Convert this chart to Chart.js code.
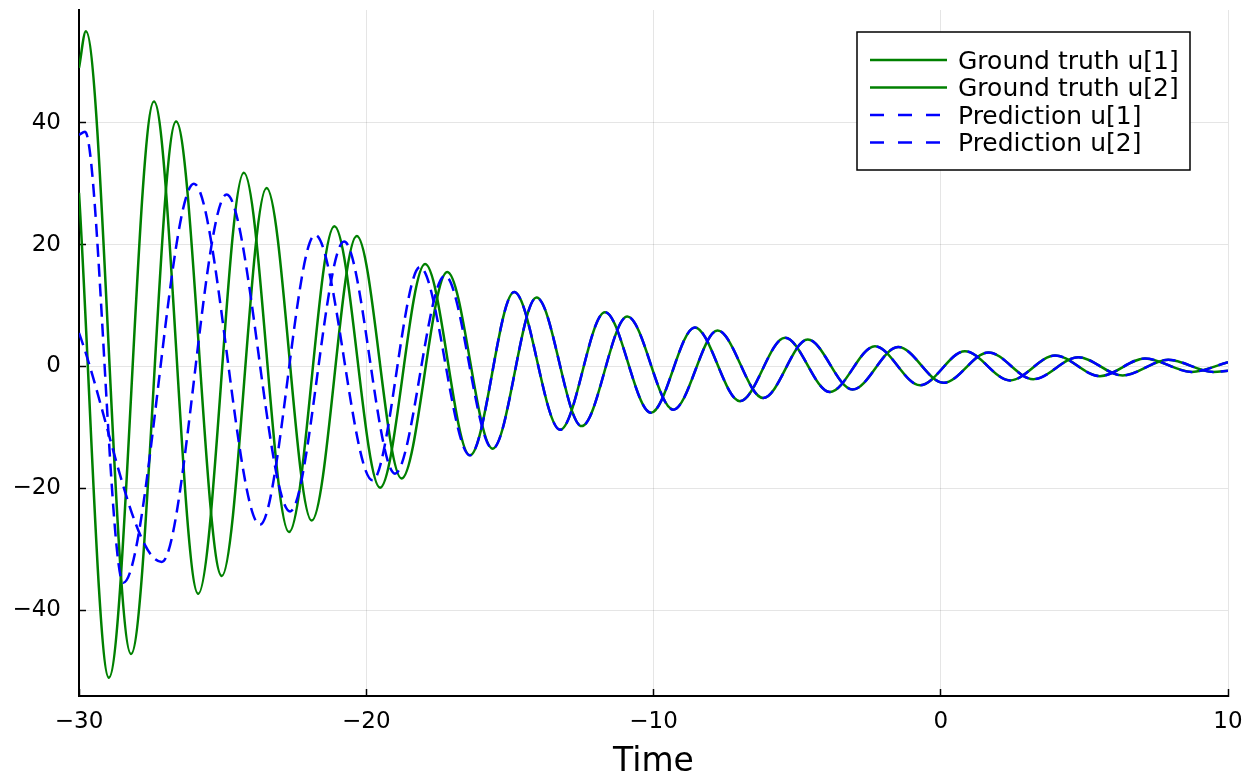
<!DOCTYPE html>
<html>
<head>
<meta charset="utf-8">
<script src="https://cdn.jsdelivr.net/npm/chart.js@4/dist/chart.umd.min.js"></script>
<style>
  html, body { margin: 0; padding: 0; background: #fff; }
  #wrap { width: 1247px; height: 779px; }
</style>
</head>
<body>
<div id="wrap"><canvas id="odechart"></canvas></div>
<script>
// peaks and troughs (time, value)
const truthU1Time = [-30, -28.96, -27.39, -25.85, -24.26, -22.69, -21.11, -19.52, -17.95, -16.39, -14.85, -13.25, -11.69, -10.09, -8.56, -6.99, -5.42, -3.86, -2.29, -0.72, 0.84, 2.41, 3.98, 5.54, 7.11, 8.74, 10];
const truthU1Value = [28.5, -51.1, 43.5, -37.3, 31.8, -27.2, 23.0, -19.9, 16.8, -14.6, 12.2, -10.4, 8.9, -7.6, 6.4, -5.7, 4.7, -4.2, 3.3, -3.1, 2.5, -2.3, 1.8, -1.6, 1.3, -0.9, 0.7];

const truthU2Time = [-30, -29.76, -28.19, -26.62, -25.03, -23.47, -21.90, -20.33, -18.77, -17.18, -15.60, -14.07, -12.50, -10.91, -9.31, -7.77, -6.18, -4.63, -3.07, -1.48, 0.10, 1.66, 3.22, 4.79, 6.33, 7.92, 9.49, 10];
const truthU2Value = [49, 55.0, -47.2, 40.2, -34.4, 29.3, -25.3, 21.4, -18.4, 15.5, -13.5, 11.3, -9.8, 8.2, -7.1, 5.9, -5.2, 4.4, -3.8, 3.2, -2.7, 2.3, -2.1, 1.5, -1.5, 1.1, -0.9, -0.7];

const predU1Time = [-30, -29.79, -28.46, -26.0, -23.70, -21.78, -19.78, -18.13, -16.39, -14.85, -13.25, -11.69, -10.09, -8.56, -6.99, -5.42, -3.86, -2.29, -0.72, 0.84, 2.41, 3.98, 5.54, 7.11, 8.74, 10];
const predU1Value = [38.0, 38.5, -35.5, 30.0, -26.0, 21.6, -18.7, 16.3, -14.6, 12.2, -10.4, 8.9, -7.6, 6.4, -5.7, 4.7, -4.2, 3.3, -3.1, 2.5, -2.3, 1.8, -1.6, 1.3, -0.9, 0.7];

const predU2Time = [-30, -27.12, -24.86, -22.65, -20.77, -19.0, -17.26, -15.60, -14.07, -12.50, -10.91, -9.31, -7.77, -6.18, -4.63, -3.07, -1.48, 0.10, 1.66, 3.22, 4.79, 6.33, 7.92, 9.49, 10];
const predU2Value = [5.5, -32.1, 28.2, -23.8, 20.5, -17.6, 14.9, -13.5, 11.3, -9.8, 8.2, -7.1, 5.9, -5.2, 4.4, -3.8, 3.2, -2.7, 2.3, -2.1, 1.5, -1.5, 1.1, -0.9, -0.7];

const xTicks = [-30, -20, -10, 0, 10];
const yTicks = [-40, -20, 0, 20, 40];

const FONT = '"DejaVu Sans", "Liberation Sans", sans-serif';
const pts = (xs, ys) => xs.map((x, i) => ({x: x, y: ys[i]}));
const fmt = v => v < 0 ? '\u2212' + Math.abs(v) : String(v);

// legend drawn inside the plot, with a framed white box
const boxLegend = {
    id: 'boxLegend',
    afterDraw(chart) {
        const {ctx, chartArea} = chart;
        const left = chartArea.right - 371, top = chartArea.top + 22;
        ctx.save();
        ctx.fillStyle = '#fff';
        ctx.fillRect(left, top, 333, 138);
        ctx.lineWidth = 1.5;
        ctx.strokeStyle = '#000';
        ctx.strokeRect(left, top, 333, 138);
        ctx.font = '25px ' + FONT;
        ctx.textBaseline = 'middle';
        chart.data.datasets.forEach((ds, i) => {
            const y = top + 28 + i * 27.5;
            ctx.beginPath();
            ctx.lineWidth = 2.5;
            ctx.strokeStyle = ds.borderColor;
            if (ds.borderDash) {
                ctx.setLineDash([14, 14]);
                ctx.moveTo(left + 13, y);
                ctx.lineTo(left + 83, y);
            } else {
                ctx.setLineDash([]);
                ctx.moveTo(left + 13, y);
                ctx.lineTo(left + 90, y);
            }
            ctx.stroke();
            ctx.setLineDash([]);
            ctx.fillStyle = '#000';
            ctx.fillText(ds.label, left + 101, y + 2);
        });
        ctx.restore();
    }
};

const line = (label, data, color, dash, order) => ({
    label: label,
    data: data,
    borderColor: color,
    backgroundColor: color,
    borderWidth: 2.5,
    borderDash: dash,
    pointRadius: 0,
    cubicInterpolationMode: 'monotone',
    fill: false,
    order: order
});

new Chart('odechart', {
    type: 'line',
    data: {
        datasets: [
            line('Ground truth u[1]', pts(truthU1Time, truthU1Value), '#008000', undefined, 2),
            line('Ground truth u[2]', pts(truthU2Time, truthU2Value), '#008000', undefined, 2),
            line('Prediction u[1]', pts(predU1Time, predU1Value), '#0000ff', [13, 7], 1),
            line('Prediction u[2]', pts(predU2Time, predU2Value), '#0000ff', [13, 7], 1)
        ]
    },
    options: {
        responsive: true,
        maintainAspectRatio: false,
        animation: false,
        layout: {padding: {top: 10, right: 19, left: 0, bottom: 0}},
        plugins: {legend: {display: false}, tooltip: {enabled: false}},
        scales: {
            x: {
                type: 'linear',
                min: -30,
                max: 10,
                afterBuildTicks: s => { s.ticks = xTicks.map(v => ({value: v})); },
                afterFit: s => { s.height = 83; s.paddingLeft = 0; s.paddingRight = 0; },
                ticks: {color: '#000', font: {family: FONT, size: 23}, padding: 19, maxRotation: 0, callback: fmt},
                grid: {color: 'rgba(0,0,0,0.1)', lineWidth: 1, tickLength: -7, tickColor: '#000', tickWidth: 1.5},
                border: {color: '#000', width: 2},
                title: {display: true, text: 'Time', color: '#000', font: {family: FONT, size: 33, lineHeight: 1}, padding: 0}
            },
            y: {
                type: 'linear',
                min: -54.1,
                max: 58.5,
                afterBuildTicks: s => { s.ticks = yTicks.map(v => ({value: v})); },
                afterFit: s => { s.width = 79; s.paddingTop = 0; s.paddingBottom = 0; },
                ticks: {color: '#000', font: {family: FONT, size: 23}, padding: 25, callback: fmt},
                grid: {color: 'rgba(0,0,0,0.1)', lineWidth: 1, tickLength: -7, tickColor: '#000', tickWidth: 1.5},
                border: {color: '#000', width: 2}
            }
        }
    },
    plugins: [boxLegend]
});
</script>
</body>
</html>
